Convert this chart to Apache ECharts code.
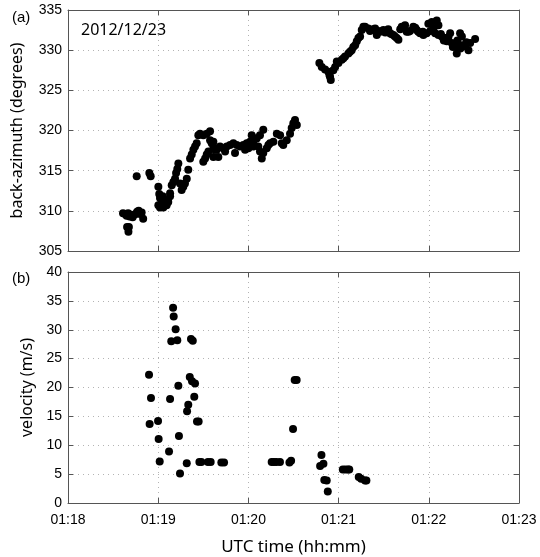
<!DOCTYPE html>
<html>
<head>
<meta charset="utf-8">
<script src="https://cdn.jsdelivr.net/npm/echarts@6/dist/echarts.min.js"></script>
<style>
  html, body { margin: 0; padding: 0; background: #fff; }
  #main { width: 540px; height: 557px; }
</style>
</head>
<body>
<div id="main"></div>
<script>
// seconds after 01:18:00 UTC
var timeTicks = ['01:18', '01:19', '01:20', '01:21', '01:22', '01:23'];

// (a) back-azimuth
var azTime = [
  38, 39, 40, 40.5, 40.2, 41, 42, 43, 44, 45, 46, 47, 48, 49, 45.7, 54.1, 55, 36.6, 50, 39.3,
  60.1, 60.7, 61.2, 62.3, 60.1, 61.2, 63.4, 65.6, 64.5, 63, 66.7, 67.9, 67.9,
  69, 70.1, 71.2, 71.9, 72.7, 73.4, 74.5, 76.7, 75.6, 77.8, 79, 80,
  81.2, 82.3, 83.4, 84.5, 85.6, 86.7, 87.8, 90, 92.3, 94.5, 94.5, 95.6,
  91.2, 90, 92.3, 93.4, 96.7, 98.9, 96.7, 97.8, 96.7, 100,
  101.1, 103.3, 105.6, 107.8, 110, 112.2, 114.4, 116.6, 118.9, 121.1, 123.3, 125.5,
  98.9, 104.5, 111.1, 117.8, 120, 123.3, 122.2, 127.7, 129.9, 124.4,
  126.6, 127.7, 128.9, 129.9, 132.2, 133.3, 134.4,
  136.6, 138.9, 141.1, 142.2, 143.2, 145.5, 147.7, 148.8, 149.9, 151, 152.2,
  167.2, 168.8, 171, 173.2, 174.3, 174.8, 173.9, 176.5, 177.7, 179.9, 182.1, 184.3, 186.5,
  188.7, 189.8, 192.1, 194.3, 195.4, 196.5, 178.8, 183.2, 187.6, 191, 193.2,
  197.6, 199.8, 202, 204.3, 205.4, 207.6, 209.8, 212, 214.2, 216.4, 218.7, 219.8, 222, 224.2, 225.3,
  200.9, 203.1, 206.5, 211, 213, 215, 217.5, 221,
  226.5, 229.7, 232, 234.2, 236.4, 238.6, 239.7, 242, 245.3, 246.4, 243.1, 244.2, 246.4, 248.6,
  250.9, 254.2, 252, 255.3, 257.5, 258.6, 260.8, 262, 262, 264.2, 266.4, 267.5, 270.8,
  227.5, 231, 233, 236, 241, 248, 250, 253, 256, 259, 261, 265
];
var azimuth = [
  309.6, 309.4, 309.7, 308.0, 307.4, 309.3, 309.5, 309.2, 309.5, 309.6, 309.9, 310.0, 309.6, 309.8, 314.3, 314.7, 314.3, 309.7, 309.0, 308.0,
  313.0, 312.1, 311.6, 311.1, 310.7, 310.4, 310.4, 310.7, 311.3, 311.8, 311.1, 311.8, 312.2,
  313.2, 313.6, 314.0, 314.7, 315.2, 315.9, 313.4, 313.0, 312.6, 313.4, 314.0, 315.1,
  316.5, 317.0, 317.6, 318.0, 318.4, 319.4, 319.6, 319.4, 319.6, 319.9, 318.8, 318.4,
  316.5, 316.1, 317.0, 317.4, 317.8, 317.8, 318.6, 317.6, 316.7, 316.7,
  318.0, 317.8, 318.0, 318.2, 318.4, 318.2, 318.0, 318.2, 318.4, 318.6, 318.6, 319.0,
  317.6, 317.4, 317.2, 317.6, 317.8, 318.0, 319.4, 319.4, 320.1, 319.0,
  318.0, 317.4, 316.5, 317.2, 317.8, 318.2, 318.4,
  318.6, 319.6, 319.4, 318.4, 318.2, 318.8, 319.6, 320.3, 320.9, 321.3, 320.7,
  328.4, 327.9, 327.6, 327.3, 326.7, 326.3, 326.9, 327.5, 327.9, 328.4, 328.8, 329.2, 329.6,
  330.0, 330.4, 331.1, 331.7, 332.5, 332.9, 328.6, 329.0, 329.8, 330.6, 331.5,
  332.9, 332.7, 332.5, 332.7, 331.9, 332.3, 332.5, 332.3, 332.1, 331.9, 331.5, 331.3, 332.9, 333.1, 332.3,
  332.4, 332.6, 332.4, 332.2, 332.6, 332.0, 331.7, 332.6,
  332.3, 332.9, 332.5, 332.1, 331.9, 332.1, 333.3, 333.5, 333.7, 333.1, 332.7, 332.1, 331.9, 331.7,
  331.5, 332.1, 331.1, 330.9, 330.5, 329.6, 332.1, 331.7, 330.6, 330.5, 330.0, 330.9, 331.4,
  332.4, 332.8, 332.3, 332.3, 332.4, 332.0, 331.2, 331.6, 330.4, 331.2, 330.2, 331.0
];

// (b) velocity
var velTime = [
  53.9, 55.2, 54.3, 59.9, 60.3, 61, 67.2, 67.9, 68.7, 69.9, 70.3, 71.6, 72.7, 73.4, 73.8, 74.5,
  79, 79.2, 80, 81, 81.8, 83, 82.5, 84.5, 84, 85.8, 86.9, 87.4, 88.7, 93.1, 94.9, 102, 103.8,
  135.5, 137, 138.6, 141, 147.3, 148.4, 149.7, 150.8, 152.1,
  168.6, 167.7, 169.9, 170.5, 172.1, 172.8, 182.8, 184.5, 186.2, 187.1, 193.4, 195, 197.6, 198.5
];
var velocity = [
  22.2, 18.2, 13.7, 14.2, 11.1, 7.2, 8.9, 18.0, 28.0, 33.8, 32.3, 30.1, 28.2, 20.3, 11.6, 5.1,
  6.9, 15.9, 17.0, 21.8, 28.4, 28.1, 21.1, 20.7, 18.4, 14.1, 14.1, 7.1, 7.1, 7.1, 7.1, 7.0, 7.0,
  7.1, 7.1, 7.1, 7.1, 7.0, 7.3, 12.8, 21.3, 21.3,
  8.3, 6.4, 6.8, 4.0, 3.9, 2.0, 5.8, 5.8, 5.8, 5.8, 4.5, 4.2, 3.9, 3.9
];

function zip(a, b) {
  return a.map(function (t, i) { return [t, b[i]]; });
}

var chartDom = document.getElementById('main');
var myChart = echarts.init(chartDom, null, { renderer: 'canvas' });

var frame = '#555';
var tickFont = { fontFamily: 'Liberation Sans', fontSize: 14, color: '#000' };
var nameFont = { fontFamily: 'Noto Sans', fontSize: 16, color: '#000' };
var dotted = { show: true, lineStyle: { color: '#b4b4b4', type: [1, 4], width: 1 } };

function xAx(grid, pos, labels, name) {
  return {
    type: 'value', gridIndex: grid, position: pos, min: 0, max: 300, interval: 60,
    axisLine: { show: true, onZero: false, lineStyle: { color: frame } },
    axisTick: { show: true, inside: true, length: 5, lineStyle: { color: frame } },
    axisLabel: {
      show: labels, margin: 10,
      fontFamily: tickFont.fontFamily, fontSize: tickFont.fontSize, color: tickFont.color,
      formatter: function (v) { return timeTicks[Math.round(v / 60)]; }
    },
    splitLine: pos === 'bottom' ? dotted : { show: false },
    name: name, nameLocation: 'middle', nameGap: 36,
    nameTextStyle: { fontFamily: nameFont.fontFamily, fontSize: 17, color: '#000' }
  };
}

function yAx(grid, pos, min, max, step, name, gap) {
  return {
    type: 'value', gridIndex: grid, position: pos, min: min, max: max, interval: step,
    axisLine: { show: true, onZero: false, lineStyle: { color: frame } },
    axisTick: { show: true, inside: true, length: 5, lineStyle: { color: frame } },
    axisLabel: {
      show: pos === 'left', margin: 6,
      fontFamily: tickFont.fontFamily, fontSize: tickFont.fontSize, color: tickFont.color
    },
    splitLine: pos === 'left' ? dotted : { show: false },
    name: pos === 'left' ? name : '', nameLocation: 'middle', nameGap: gap,
    nameTextStyle: nameFont
  };
}

var option = {
  animation: false,
  backgroundColor: '#fff',
  title: [
    { text: '2012/12/23', left: 76, top: 17, textStyle: { fontFamily: 'Noto Sans', fontSize: 16, fontWeight: 'normal', color: '#000' } },
    { text: '(a)', left: 7, top: 5, textStyle: { fontFamily: 'Liberation Sans', fontSize: 15, fontWeight: 'normal', color: '#000' } },
    { text: '(b)', left: 7, top: 266, textStyle: { fontFamily: 'Liberation Sans', fontSize: 15, fontWeight: 'normal', color: '#000' } }
  ],
  grid: [
    { left: 68, top: 10, width: 451, height: 241 },
    { left: 68, top: 272, width: 451, height: 240 }
  ],
  xAxis: [
    xAx(0, 'bottom', false, ''),
    xAx(0, 'top', false, ''),
    xAx(1, 'bottom', true, 'UTC time (hh:mm)'),
    xAx(1, 'top', false, '')
  ],
  yAxis: [
    yAx(0, 'left', 305, 335, 5, 'back-azimuth (degrees)', 43),
    yAx(0, 'right', 305, 335, 5, '', 0),
    yAx(1, 'left', 0, 40, 5, 'velocity (m/s)', 24),
    yAx(1, 'right', 0, 40, 5, '', 0)
  ],
  series: [
    {
      name: 'back-azimuth', type: 'scatter', xAxisIndex: 0, yAxisIndex: 0,
      symbolSize: 8, itemStyle: { color: '#000', opacity: 1 },
      data: zip(azTime, azimuth)
    },
    {
      name: 'velocity', type: 'scatter', xAxisIndex: 2, yAxisIndex: 2,
      symbolSize: 8, itemStyle: { color: '#000', opacity: 1 },
      data: zip(velTime, velocity)
    }
  ]
};

option && myChart.setOption(option);
</script>
</body>
</html>
